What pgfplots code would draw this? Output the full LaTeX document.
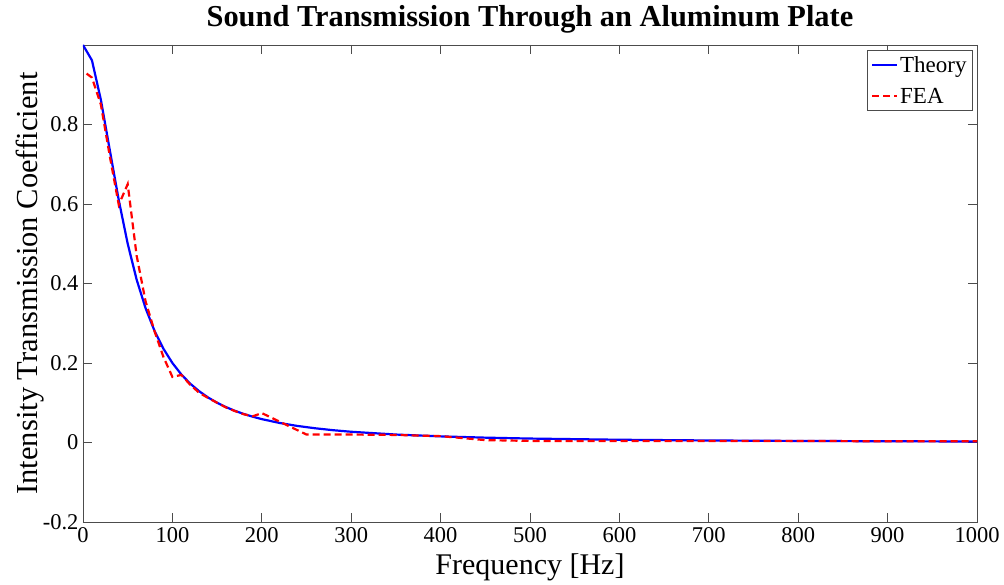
\documentclass[border=0pt]{standalone}
\usepackage{fontspec}
\setmainfont{Liberation Serif}
\usepackage{pgfplots}
\pgfplotsset{compat=1.18}
\begin{document}
\begin{tikzpicture}
\path[use as bounding box] (-83pt,-63pt) rectangle (921pt,522pt);
\begin{axis}[
  scale only axis, width=894pt, height=477pt,
  at={(0pt,0pt)}, anchor=south west,
  xmin=0, xmax=1000, ymin=-0.2, ymax=1,
  xtick={0,100,...,1000},
  xticklabels={0,100,200,300,400,500,600,700,800,900,1000},
  ytick={-0.2,0,0.2,0.4,0.6,0.8},
  yticklabels={-0.2,0,0.2,0.4,0.6,0.8},
  tick align=inside, major tick length=9pt,
  axis line style={black!70, line width=0.8pt},
  every tick/.style={black!70, line width=0.8pt},
  /pgf/number format/assume math mode=true,
  tick label style={font=\fontsize{22.5}{22.5}\selectfont},
  xticklabel style={yshift=-2pt},
  yticklabel style={xshift=-1pt},
  title={\textbf{Sound Transmission Through an Aluminum Plate}},
  title style={font=\fontsize{30.4}{30.4}\selectfont, at={(axis description cs:0.5,1.0)}, anchor=south, yshift=2pt},
  xlabel={Frequency [Hz]},
  xlabel style={font=\fontsize{30}{30}\selectfont, at={(axis description cs:0.5,-0.094)}, anchor=center},
  ylabel={Intensity Transmission Coefficient},
  ylabel style={font=\fontsize{30.5}{30.5}\selectfont, at={(axis description cs:-0.059,0.5)}, anchor=center, rotate=0},
  legend style={at={(1,1)}, anchor=north east, xshift=-4pt, yshift=-5pt,
    draw=black!70, line width=0.8pt, font=\fontsize{23}{23}\selectfont,
    inner sep=4pt, row sep=10pt, cells={anchor=west}},
  legend image code/.code={\draw[#1] (-4pt,0pt) -- (21pt,0pt);},
  legend cell align=left,
]
\addplot[blue, line width=2.2pt] coordinates {
(0,1.0) (10,0.9615) (20,0.8621) (30,0.7353) (40,0.6098) (50,0.5)
(60,0.4098) (70,0.3378) (80,0.2809) (90,0.2358) (100,0.2)
(110,0.1712) (120,0.1479) (130,0.1289) (140,0.1131) (150,0.1)
(160,0.0890) (170,0.0796) (180,0.0716) (190,0.0648) (200,0.0588)
(220,0.0491) (240,0.0416) (260,0.0357) (280,0.0309) (300,0.0270)
(350,0.0200) (400,0.0154) (450,0.0122) (500,0.0099) (600,0.0069)
(700,0.0051) (800,0.0039) (900,0.0031) (1000,0.0025)
};
\addlegendentry{Theory}
\addplot[red, line width=2.2pt, dash pattern=on 7pt off 4pt] coordinates {
(4,0.928) (10,0.918) (20,0.850) (30,0.720) (40,0.598) (50,0.650)
(60,0.470) (70,0.355) (80,0.280) (90,0.215) (100,0.165) (110,0.170)
(120,0.145) (130,0.125) (140,0.112) (150,0.100) (160,0.088)
(170,0.079) (180,0.071) (190,0.066) (200,0.074) (250,0.020)
(300,0.020) (350,0.019) (400,0.016) (450,0.006) (500,0.004)
(600,0.004) (700,0.004) (800,0.004) (900,0.003) (1000,0.003)
};
\addlegendentry{FEA}
\end{axis}
\end{tikzpicture}
\end{document}
